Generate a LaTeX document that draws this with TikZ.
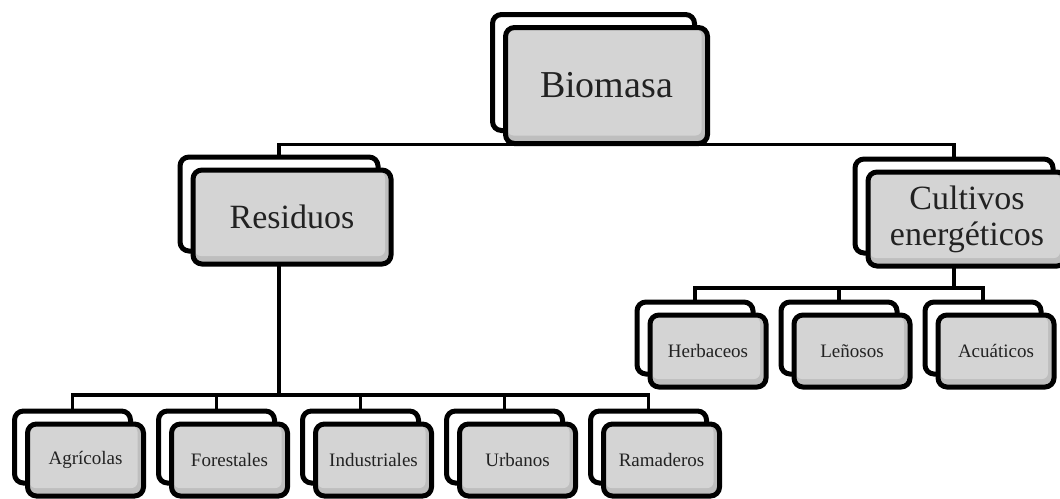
\documentclass[tikz,border=0pt]{standalone}
\usepackage{fontspec}
\setmainfont{Liberation Serif}
\usepackage{tikz}
\usetikzlibrary{positioning,backgrounds}
\definecolor{boxgray} {RGB}{212,212,212}
\definecolor{boxshade}{RGB}{190,190,190}
\definecolor{inkgray} {RGB}{ 34, 34, 34}

\begin{document}
\begin{tikzpicture}[x=0.5pt, y=-0.5pt,
  back/.style={rectangle, rounded corners=4.5pt, draw=black, line width=2.5pt,
               fill=white, inner sep=0pt, outer sep=0pt},
  front/.style={rectangle, rounded corners=4.5pt, draw=black, line width=2.5pt,
                fill=boxshade, inner sep=0pt, outer sep=0pt, align=center,
                text=inkgray,
                path picture={\fill[boxgray, rounded corners=3pt]
                  ([shift={(1pt,-1pt)}]path picture bounding box.north west) rectangle
                  ([shift={(-3pt,4pt)}]path picture bounding box.south east);}},
  big/.style={minimum width=101pt, minimum height=58pt,
              font=\fontsize{19}{21}\selectfont},
  mid/.style={minimum width=99pt, minimum height=47pt,
              font=\fontsize{17}{18}\selectfont},
  small/.style={minimum width=58pt, minimum height=36pt,
                font=\fontsize{9.5}{11}\selectfont},
  conn/.style={draw=black, line width=1.9pt}
]
  \clip (0,0) rectangle (1060,498);

  % top level
  \node[back, big] (bio_b) at (593.5,72.5) {};
  \node[front, big] (bio) at ([shift={(6.5pt,-6.5pt)}]bio_b) {Biomasa};

  % second level
  \node[back, mid] (res_b) at (279,204) {};
  \node[front, mid] (res) at ([shift={(6.5pt,-6.5pt)}]res_b) {Residuos};
  \node[back, mid] (cul_b) at (954,206) {};
  \node[front, mid] (cul) at ([shift={(6.5pt,-6.5pt)}]cul_b)
        {Cultivos\\energéticos};

  % residuos
  \node[back, small] (agr_b) at (72.5,447) {};
  \node[back, small, right=14pt of agr_b] (for_b) {};
  \node[back, small, right=14pt of for_b] (ind_b) {};
  \node[back, small, right=14pt of ind_b] (urb_b) {};
  \node[back, small, right=14pt of urb_b] (ram_b) {};
  \node[front, small] (agr) at ([shift={(6.5pt,-6.5pt)}]agr_b) {Agrícolas};
  \node[front, small] (for) at ([shift={(6.5pt,-6.5pt)}]for_b) {Forestales};
  \node[front, small] (ind) at ([shift={(6.5pt,-6.5pt)}]ind_b) {Industriales};
  \node[front, small] (urb) at ([shift={(6.5pt,-6.5pt)}]urb_b) {Urbanos};
  \node[front, small] (ram) at ([shift={(6.5pt,-6.5pt)}]ram_b) {Ramaderos};

  % cultivos
  \node[back, small] (her_b) at (695,338) {};
  \node[back, small, right=14pt of her_b] (len_b) {};
  \node[back, small, right=14pt of len_b] (acu_b) {};
  \node[front, small] (her) at ([shift={(6.5pt,-6.5pt)}]her_b) {Herbaceos};
  \node[front, small] (len) at ([shift={(6.5pt,-6.5pt)}]len_b) {Leñosos};
  \node[front, small] (acu) at ([shift={(6.5pt,-6.5pt)}]acu_b) {Acuáticos};

  \begin{scope}[on background layer]
    \draw[conn] (bio_b.south) -- ++(0,14) coordinate (bj);
    \draw[conn] (bj) -| (res_b.north);
    \draw[conn] (bj) -| (cul_b.north);
    \draw[conn] (res_b.south) -- ++(0,144) coordinate (rj);
    \foreach \n in {agr,for,ind,urb,ram}
      \draw[conn] (rj) -| (\n_b.north);
    \draw[conn] (cul_b.south) -- ++(0,35) coordinate (cj);
    \foreach \n in {her,len,acu}
      \draw[conn] (cj) -| (\n_b.north);
  \end{scope}
\end{tikzpicture}
\end{document}
